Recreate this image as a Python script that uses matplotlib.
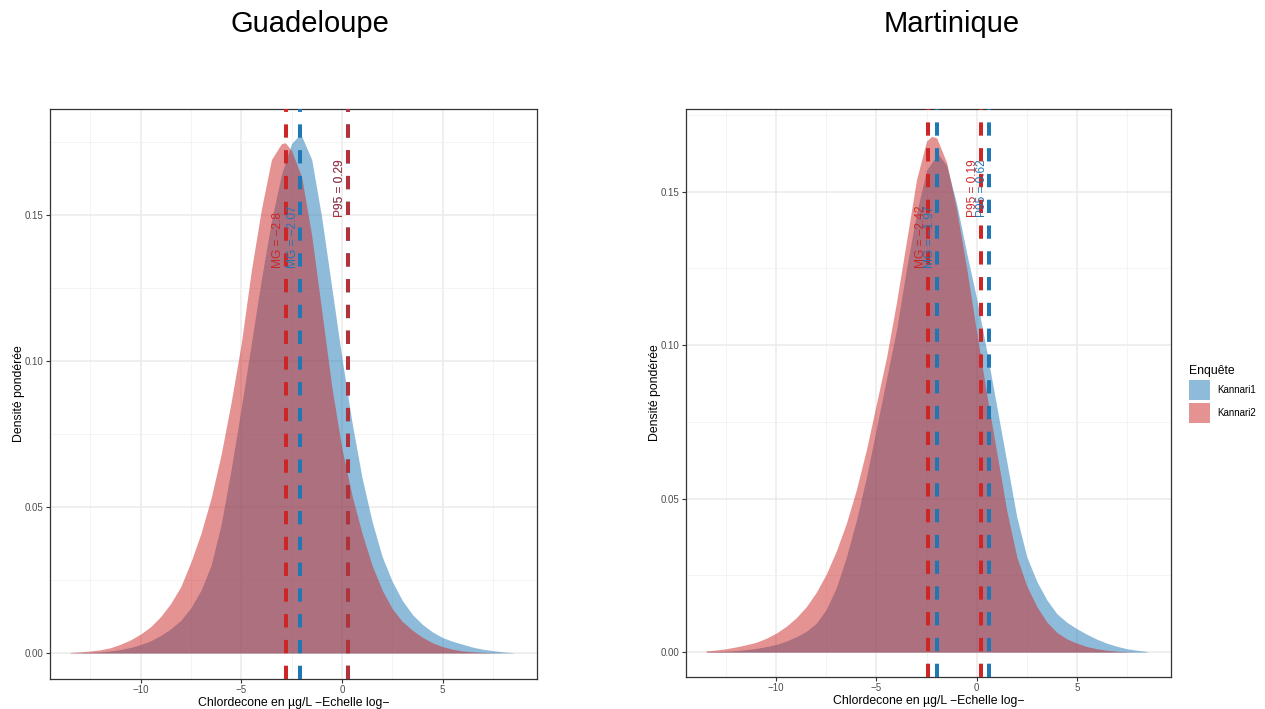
import matplotlib
matplotlib.use("Agg")
import matplotlib.pyplot as plt
from matplotlib.patches import Patch

plt.rcParams['font.family'] = ['Liberation Sans', 'DejaVu Sans']
plt.rcParams['axes.unicode_minus'] = True

# ---------------- data ----------------
panels = ["Guadeloupe", "Martinique"]
series = ["Kannari1", "Kannari2"]

x_grid = [-13.5, -13, -12.5, -12, -11.5, -11, -10.5, -10, -9.5, -9, -8.5, -8,
          -7.5, -7, -6.5, -6, -5.5, -5, -4.5, -4, -3.5, -3, -2.5, -2, -1.5,
          -1, -0.5, 0, 0.5, 1, 1.5, 2, 2.5, 3, 3.5, 4, 4.5, 5, 5.5, 6, 6.5,
          7, 7.5, 8, 8.5]

gua_k1 = [0.0000, 0.0001, 0.0002, 0.0004, 0.0007, 0.0012, 0.0019, 0.0029, 0.0042,
          0.0060, 0.0083, 0.0112, 0.0155, 0.0215, 0.0300, 0.0440, 0.0630, 0.0840,
          0.1060, 0.1280, 0.1480, 0.1640, 0.1745, 0.1770, 0.1690, 0.1490, 0.1250,
          0.1010, 0.0790, 0.0600, 0.0450, 0.0330, 0.0245, 0.0180, 0.0132, 0.0098,
          0.0072, 0.0053, 0.0040, 0.0030, 0.0020, 0.0013, 0.0008, 0.0004, 0.0001]
gua_k2 = [0.0002, 0.0004, 0.0007, 0.0011, 0.0018, 0.0030, 0.0045, 0.0065, 0.0090,
          0.0125, 0.0170, 0.0228, 0.0312, 0.0410, 0.0530, 0.0680, 0.0860, 0.1060,
          0.1310, 0.1520, 0.1690, 0.1745, 0.1720, 0.1630, 0.1430, 0.1170, 0.0910,
          0.0700, 0.0540, 0.0410, 0.0300, 0.0215, 0.0152, 0.0108, 0.0078, 0.0054,
          0.0035, 0.0022, 0.0013, 0.0007, 0.0004, 0.0002, 0.0001, 0.0000, 0.0000]
mar_k1 = [0.0001, 0.0002, 0.0003, 0.0005, 0.0008, 0.0012, 0.0018, 0.0025, 0.0036,
          0.0050, 0.0068, 0.0094, 0.0140, 0.0210, 0.0310, 0.0430, 0.0570, 0.0730,
          0.0890, 0.1050, 0.1250, 0.1430, 0.1570, 0.1618, 0.1585, 0.1460, 0.1300,
          0.1150, 0.0980, 0.0800, 0.0620, 0.0440, 0.0310, 0.0230, 0.0170, 0.0125,
          0.0097, 0.0076, 0.0058, 0.0042, 0.0029, 0.0019, 0.0011, 0.0006, 0.0002]
mar_k2 = [0.0004, 0.0007, 0.0011, 0.0017, 0.0024, 0.0032, 0.0045, 0.0062, 0.0084,
          0.0112, 0.0148, 0.0195, 0.0255, 0.0330, 0.0420, 0.0530, 0.0660, 0.0810,
          0.0960, 0.1140, 0.1340, 0.1540, 0.1665, 0.1675, 0.1595, 0.1440, 0.1250,
          0.1040, 0.0840, 0.0650, 0.0460, 0.0310, 0.0215, 0.0148, 0.0098, 0.0064,
          0.0043, 0.0029, 0.0018, 0.0011, 0.0006, 0.0003, 0.0001, 0.0000, 0.0000]

# density peaks (x, y)
gua_peak_k1 = (-2.1, 0.1775)
gua_peak_k2 = (-2.8, 0.1747)
mar_peak_k1 = (-1.9, 0.1620)
mar_peak_k2 = (-2.25, 0.1680)

# geometric means and 95th percentiles (log scale)
gua_mg = [-2.07, -2.8]
gua_p95 = [0.29, 0.29]
mar_mg = [-1.97, -2.42]
mar_p95 = [0.62, 0.19]

# ---------------- style ----------------
line_colors = ["#1F78B4", "#CD2626"]
fill_alpha = 0.5

fig = plt.figure(figsize=(12.65, 7.09), dpi=100)
W, H = 1265, 709
ax_g = fig.add_axes([50 / W, 1 - 679 / H, (537 - 50) / W, (679 - 109) / H])
ax_m = fig.add_axes([686 / W, 1 - 677 / H, (1171 - 686) / W, (677 - 109) / H])


def fmt(v):
    return ("%g" % v).replace("-", "\u2212")


def merge(peak, ys):
    pts = sorted(list(zip(x_grid, ys)) + [peak])
    return [p[0] for p in pts], [p[1] for p in pts]


def draw_panel(ax, curves, peaks, mg, p95, ylim, mg_y, p95_y, p95_alpha):
    for i in range(2):
        xs, ys = merge(peaks[i], curves[i])
        ax.fill_between(xs, 0, ys, color=line_colors[i], alpha=fill_alpha,
                        linewidth=0, zorder=2 + i)
    for i in range(2):
        entries = [("MG = ", mg[i], mg_y, 1.0),
                   ("P95 = ", p95[i], p95_y, 1.0 if i == 0 else p95_alpha)]
        for prefix, v, ty, al in entries:
            ax.axvline(v, color=line_colors[i], lw=2.9, ls=(0, (3.3, 3.1)),
                       zorder=5 + i, alpha=al)
            ax.text(v - 0.08, ty, prefix + fmt(v), rotation=90, ha='right',
                    va='bottom', color=line_colors[i], fontsize=8.6,
                    zorder=7 + i, alpha=al)
    ax.set_xlim(-14.5, 9.69)
    ax.set_ylim(*ylim)
    ax.set_xticks([-10, -5, 0, 5])
    ax.set_xticklabels([fmt(v) for v in [-10, -5, 0, 5]])
    ax.set_yticks([0, 0.05, 0.10, 0.15])
    ax.set_yticklabels(["0.00", "0.05", "0.10", "0.15"])
    ax.set_xticks([-12.5, -7.5, -2.5, 2.5, 7.5], minor=True)
    ax.set_yticks([0.025, 0.075, 0.125, 0.175], minor=True)
    ax.grid(which='major', color='#EBEBEB', lw=1.1, zorder=0)
    ax.grid(which='minor', color='#F2F2F2', lw=0.6, zorder=0)
    ax.set_axisbelow(True)
    ax.tick_params(which='major', length=3, width=0.8, color='#333333',
                   labelcolor='#4D4D4D', labelsize=7, pad=1.5)
    ax.tick_params(which='minor', length=0)
    for s in ax.spines.values():
        s.set_color('#333333')
        s.set_linewidth(0.9)
    ax.set_xlabel("Chlordecone en \u00b5g/L \u2212Echelle log\u2212", fontsize=8.8,
                  labelpad=1)
    ax.set_ylabel("Densit\u00e9 pond\u00e9r\u00e9e", fontsize=8.8, labelpad=0)


draw_panel(ax_g, [gua_k1, gua_k2], [gua_peak_k1, gua_peak_k2], gua_mg, gua_p95,
           (-0.0089, 0.1863), 0.1318, 0.1493, 0.85)
draw_panel(ax_m, [mar_k1, mar_k2], [mar_peak_k1, mar_peak_k2], mar_mg, mar_p95,
           (-0.0081, 0.1769), 0.125, 0.1417, 1.0)

fig.text(310 / W, 1 - 24 / H, panels[0], ha='center', va='center', fontsize=21)
fig.text(952 / W, 1 - 24 / H, panels[1], ha='center', va='center', fontsize=21)

handles = [Patch(facecolor=line_colors[i], alpha=fill_alpha, edgecolor='none',
                 label=series[i]) for i in range(2)]
fig.legend(handles=handles, title="Enqu\u00eate", loc='upper left',
           bbox_to_anchor=(1189 / W, 1 - 365 / H), frameon=False, fontsize=7,
           title_fontsize=8.8, handlelength=2.15, handleheight=2.79,
           labelspacing=0.3, alignment='left', handletextpad=0.75,
           borderaxespad=0, borderpad=0)

fig.savefig("out.png", dpi=100)
